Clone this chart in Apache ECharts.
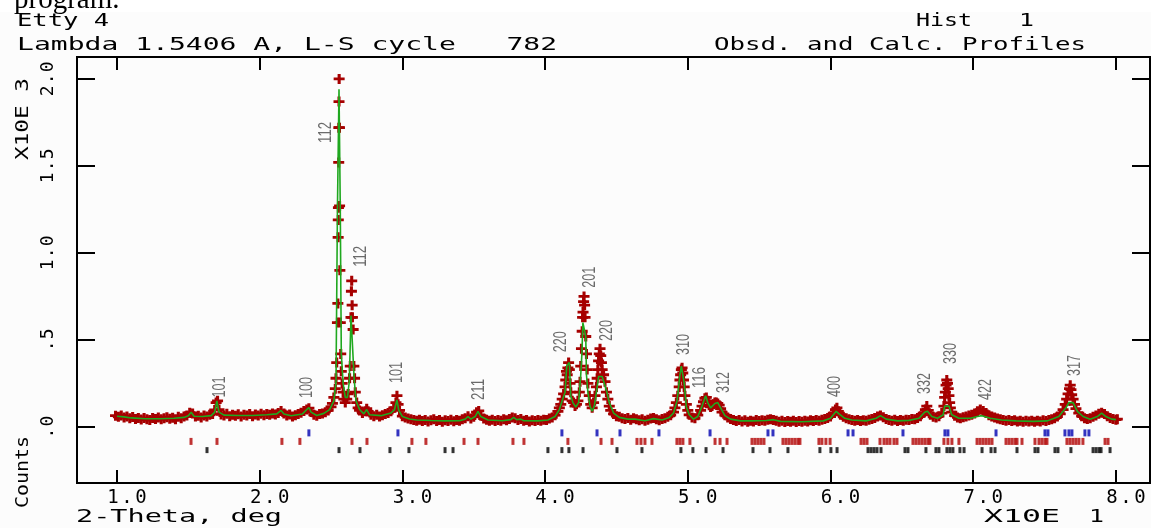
<!DOCTYPE html>
<html>
<head>
<meta charset="utf-8">
<script src="https://cdn.jsdelivr.net/npm/echarts@6.0.0/dist/echarts.min.js"></script>
<style>
  html, body { margin: 0; padding: 0; background: #fcfcfc; }
  #chart { width: 1151px; height: 528px; }
</style>
</head>
<body>
<div id="chart"></div>
<script>
// 2-theta in units of 10 deg, counts in units of 1000
const xTicks = [1, 2, 3, 4, 5, 6, 7, 8];
const xTickText = ['1.0', '2.0', '3.0', '4.0', '5.0', '6.0', '7.0', '8.0'];
const yTicks = [0, 0.5, 1.0, 1.5, 2.0];
const yTickText = ['.0', '.5', '1.0', '1.5', '2.0'];

// calculated profile
const calcPts = [
  [1.00,0.062],[1.05,0.058],[1.10,0.052],[1.20,0.047],[1.30,0.047],[1.40,0.050],[1.47,0.055],[1.50,0.065],
  [1.52,0.085],[1.54,0.062],[1.60,0.060],[1.66,0.065],[1.685,0.085],[1.70,0.150],[1.715,0.085],[1.75,0.068],
  [1.85,0.066],[1.95,0.066],[2.05,0.070],[2.12,0.075],[2.15,0.095],[2.17,0.075],[2.22,0.064],[2.30,0.075],
  [2.33,0.100],[2.345,0.112],[2.36,0.085],[2.40,0.066],[2.45,0.078],[2.49,0.100],[2.52,0.150],[2.535,0.260],
  [2.545,1.250],[2.556,1.940],[2.565,1.250],[2.572,0.420],[2.585,0.250],[2.60,0.170],[2.615,0.170],[2.628,0.260],
  [2.64,0.640],[2.652,0.640],[2.662,0.280],[2.675,0.150],[2.70,0.100],[2.73,0.075],[2.75,0.100],[2.77,0.070],
  [2.85,0.065],[2.92,0.080],[2.945,0.100],[2.962,0.155],[2.975,0.095],[3.00,0.060],[3.05,0.046],[3.10,0.040],
  [3.20,0.037],[3.30,0.035],[3.40,0.036],[3.44,0.045],[3.46,0.060],[3.48,0.045],[3.51,0.060],[3.53,0.090],
  [3.55,0.060],[3.60,0.040],[3.70,0.036],[3.76,0.042],[3.78,0.055],[3.80,0.042],[3.83,0.045],[3.85,0.036],
  [3.95,0.035],[4.02,0.040],[4.07,0.060],[4.10,0.100],[4.12,0.150],[4.14,0.200],[4.152,0.350],[4.162,0.360],
  [4.170,0.370],[4.18,0.180],[4.195,0.140],[4.215,0.115],[4.235,0.140],[4.25,0.300],[4.258,0.420],[4.265,0.600],
  [4.275,0.600],[4.285,0.520],[4.29,0.300],[4.30,0.200],[4.315,0.120],[4.33,0.090],[4.345,0.120],[4.36,0.200],
  [4.375,0.290],[4.40,0.290],[4.415,0.250],[4.43,0.210],[4.45,0.140],[4.48,0.080],[4.52,0.055],[4.58,0.045],
  [4.63,0.045],[4.70,0.036],[4.76,0.048],[4.82,0.040],[4.87,0.055],[4.90,0.080],[4.925,0.150],[4.945,0.300],
  [4.955,0.350],[4.965,0.350],[4.975,0.250],[4.99,0.115],[5.01,0.070],[5.04,0.045],[5.07,0.060],[5.10,0.120],
  [5.125,0.180],[5.14,0.140],[5.16,0.110],[5.19,0.135],[5.21,0.140],[5.23,0.110],[5.26,0.065],[5.30,0.045],
  [5.37,0.035],[5.45,0.035],[5.55,0.037],[5.60,0.042],[5.65,0.032],[5.80,0.030],[5.95,0.035],[6.00,0.050],
  [6.04,0.090],[6.06,0.075],[6.10,0.050],[6.15,0.040],[6.25,0.035],[6.32,0.050],[6.35,0.065],[6.39,0.045],
  [6.47,0.035],[6.55,0.038],[6.62,0.050],[6.66,0.085],[6.68,0.090],[6.71,0.060],[6.75,0.050],[6.79,0.070],
  [6.80,0.120],[6.83,0.120],[6.85,0.070],[6.90,0.050],[6.98,0.050],[7.03,0.060],[7.06,0.065],[7.12,0.050],
  [7.20,0.040],[7.30,0.035],[7.42,0.032],[7.52,0.035],[7.60,0.060],[7.65,0.110],[7.67,0.140],[7.70,0.140],
  [7.73,0.090],[7.77,0.060],[7.82,0.045],[7.87,0.060],[7.90,0.080],[7.93,0.060],[7.97,0.045],[8.00,0.042]
];

// observed points
const obsA = [
  [0.99,0.065],[1.01,0.058],[1.03,0.066],[1.05,0.055],[1.07,0.060],[1.09,0.050],[1.11,0.057],[1.13,0.046],
  [1.15,0.052],[1.17,0.043],[1.19,0.051],[1.21,0.045],[1.23,0.040],[1.25,0.052],[1.27,0.046],[1.29,0.055],
  [1.31,0.044],[1.33,0.050],[1.35,0.056],[1.37,0.047],[1.39,0.053],[1.41,0.045],[1.43,0.058],[1.45,0.050],
  [1.47,0.060],[1.49,0.066],[1.51,0.082],[1.53,0.078],[1.55,0.060],[1.57,0.064],[1.59,0.054],[1.61,0.066],
  [1.63,0.060],[1.65,0.070],[1.67,0.075],[1.685,0.098],[1.695,0.140],[1.705,0.150],[1.715,0.100],[1.73,0.072],
  [1.75,0.066],[1.77,0.076],[1.79,0.062],[1.81,0.070],[1.83,0.064],[1.85,0.073],[1.87,0.060],[1.89,0.070],
  [1.91,0.066],[1.93,0.075],[1.95,0.062],[1.97,0.072],[1.99,0.066],[2.01,0.076],[2.03,0.068],[2.05,0.074],
  [2.07,0.070],[2.09,0.078],[2.11,0.072],[2.13,0.080],[2.15,0.092],[2.17,0.078],[2.19,0.066],[2.21,0.072],
  [2.23,0.060],[2.25,0.068],[2.27,0.074],[2.29,0.082],[2.31,0.092],[2.33,0.100],[2.345,0.108],[2.36,0.086],
  [2.38,0.070],[2.40,0.064],[2.42,0.074],[2.44,0.078]
];
const obsB = [
  [2.46,0.085],[2.48,0.095],[2.50,0.115],[2.51,0.135],[2.52,0.170],[2.53,0.220],[2.535,0.280],[2.54,0.370],
  [2.545,0.600],[2.548,0.710],[2.55,1.090],[2.551,1.190],[2.552,1.260],[2.554,1.520],[2.555,1.720],[2.556,1.870],
  [2.557,2.000],[2.559,1.720],[2.56,1.270],[2.562,0.900],[2.565,0.600],[2.568,0.420],[2.572,0.320],[2.578,0.250],
  [2.585,0.200],[2.59,0.160],[2.60,0.140],[2.61,0.160],[2.62,0.190],[2.63,0.280],[2.635,0.350],[2.64,0.630],
  [2.643,0.780],[2.645,0.840],[2.648,0.700],[2.65,0.630],[2.655,0.560],[2.66,0.350],[2.665,0.280],[2.67,0.200],
  [2.68,0.140],[2.69,0.110],[2.70,0.095],[2.72,0.080],[2.74,0.090],[2.75,0.105],[2.76,0.090],[2.78,0.070],
  [2.80,0.062],[2.82,0.070],[2.84,0.060],[2.86,0.068],[2.88,0.074],[2.90,0.080],[2.92,0.090],[2.94,0.110],
  [2.955,0.140],[2.962,0.180],[2.97,0.130],[2.98,0.095],[3.00,0.062],[3.02,0.055],[3.04,0.048],[3.06,0.044],
  [3.08,0.040]
];
const obsC = [
  [3.10,0.036],[3.12,0.042],[3.14,0.034],[3.16,0.040],[3.18,0.032],[3.20,0.038],[3.22,0.044],[3.24,0.034],
  [3.26,0.040],[3.28,0.030],[3.30,0.038],[3.32,0.035],[3.34,0.042],[3.36,0.033],[3.38,0.040],[3.40,0.036],
  [3.42,0.044],[3.44,0.050],[3.46,0.062],[3.48,0.048],[3.50,0.058],[3.52,0.085],[3.535,0.092],[3.55,0.065],
  [3.57,0.048],[3.59,0.042],[3.61,0.036],[3.63,0.042],[3.65,0.034],[3.67,0.040],[3.69,0.036],[3.71,0.044],
  [3.73,0.038],[3.75,0.046],[3.77,0.054],[3.79,0.050],[3.81,0.040],[3.83,0.046],[3.85,0.036],[3.87,0.040],
  [3.89,0.032],[3.91,0.038],[3.93,0.034],[3.95,0.040],[3.97,0.036],[3.99,0.042],[4.01,0.040],[4.03,0.048],
  [4.05,0.055],[4.07,0.068],[4.09,0.090],[4.10,0.110],[4.11,0.130],[4.12,0.160],[4.13,0.190],[4.14,0.230],
  [4.145,0.270],[4.15,0.320],[4.155,0.300],[4.16,0.340],[4.165,0.370],[4.17,0.330],[4.175,0.250],[4.18,0.200],
  [4.19,0.150],[4.20,0.140],[4.21,0.120],[4.22,0.130],[4.23,0.150],[4.24,0.200],[4.245,0.260],[4.25,0.350],
  [4.255,0.450],[4.26,0.550],[4.263,0.630],[4.266,0.660],[4.27,0.720],[4.273,0.750],[4.277,0.700],[4.28,0.630],
  [4.285,0.520],[4.29,0.420],[4.295,0.330],[4.30,0.250],[4.31,0.180],[4.32,0.130],[4.33,0.110],[4.34,0.140],
  [4.35,0.180],[4.36,0.230],[4.365,0.280],[4.37,0.330],[4.375,0.380],[4.38,0.420],[4.385,0.450],[4.39,0.410],
  [4.395,0.370],[4.40,0.330],[4.41,0.300],[4.42,0.260],[4.43,0.200],[4.44,0.160],[4.45,0.120],[4.46,0.095],
  [4.48,0.075]
];
const obsD = [
  [4.50,0.062],[4.52,0.058],[4.54,0.050],[4.56,0.046],[4.58,0.052],[4.60,0.042],[4.62,0.050],[4.64,0.045],
  [4.66,0.038],[4.68,0.044],[4.70,0.036],[4.72,0.042],[4.74,0.048],[4.76,0.052],[4.78,0.044],[4.80,0.038],
  [4.82,0.046],[4.84,0.050],[4.86,0.058],[4.88,0.068],[4.90,0.085],[4.91,0.110],[4.92,0.140],[4.93,0.180],
  [4.94,0.230],[4.945,0.270],[4.95,0.300],[4.955,0.330],[4.96,0.340],[4.965,0.310],[4.97,0.270],[4.975,0.230],
  [4.98,0.180],[4.99,0.130],[5.00,0.095],[5.01,0.070],[5.03,0.055],[5.05,0.050],[5.07,0.068],[5.09,0.095],
  [5.10,0.120],[5.11,0.145],[5.12,0.165],[5.13,0.170],[5.14,0.150],[5.15,0.125],[5.16,0.115],[5.17,0.120],
  [5.18,0.130],[5.19,0.140],[5.20,0.140],[5.21,0.135],[5.22,0.125],[5.23,0.105],[5.24,0.085],[5.26,0.068],
  [5.28,0.055],[5.30,0.046],[5.32,0.040],[5.34,0.034],[5.36,0.040],[5.38,0.032],[5.40,0.038],[5.42,0.030],
  [5.44,0.036],[5.46,0.032],[5.48,0.040],[5.50,0.034],[5.52,0.038],[5.54,0.036],[5.56,0.042],[5.58,0.045],
  [5.60,0.040],[5.62,0.036],[5.64,0.030],[5.66,0.036],[5.68,0.028],[5.70,0.034],[5.72,0.030],[5.74,0.036],
  [5.76,0.028],[5.78,0.034],[5.80,0.030],[5.82,0.036],[5.84,0.032],[5.86,0.038],[5.88,0.034],[5.90,0.040],
  [5.92,0.036],[5.94,0.042],[5.96,0.046],[5.98,0.052]
];
const obsE = [
  [6.00,0.060],[6.02,0.080],[6.035,0.100],[6.045,0.110],[6.055,0.090],[6.07,0.070],[6.09,0.058],[6.11,0.050],
  [6.13,0.044],[6.15,0.040],[6.17,0.036],[6.19,0.040],[6.21,0.034],[6.23,0.038],[6.25,0.036],[6.27,0.042],
  [6.29,0.046],[6.31,0.052],[6.33,0.060],[6.35,0.066],[6.37,0.056],[6.39,0.046],[6.41,0.040],[6.43,0.036],
  [6.45,0.042],[6.47,0.034],[6.49,0.040],[6.51,0.036],[6.53,0.042],[6.55,0.040],[6.57,0.046],[6.59,0.044],
  [6.61,0.052],[6.63,0.062],[6.65,0.080],[6.665,0.100],[6.675,0.120],[6.685,0.095],[6.70,0.070],[6.72,0.058],
  [6.74,0.054],[6.76,0.062],[6.78,0.080],[6.795,0.120],[6.80,0.170],[6.805,0.200],[6.81,0.240],[6.815,0.270],
  [6.82,0.250],[6.825,0.220],[6.83,0.180],[6.835,0.140],[6.84,0.110],[6.85,0.085],[6.87,0.065],[6.89,0.055],
  [6.91,0.050],[6.93,0.056],[6.95,0.060],[6.97,0.066],[6.99,0.070],[7.01,0.078],[7.03,0.090],[7.05,0.100],
  [7.07,0.092],[7.09,0.080],[7.11,0.068],[7.13,0.060],[7.15,0.054],[7.17,0.048],[7.19,0.044],[7.21,0.040],
  [7.23,0.036],[7.25,0.040],[7.27,0.034],[7.29,0.038],[7.31,0.032],[7.33,0.036],[7.35,0.030],[7.37,0.036],
  [7.39,0.032],[7.41,0.036],[7.43,0.030],[7.45,0.036],[7.47,0.032],[7.49,0.038],[7.51,0.034],[7.53,0.040],
  [7.55,0.044],[7.57,0.050],[7.59,0.060],[7.61,0.075],[7.63,0.100],[7.645,0.130],[7.655,0.160],[7.665,0.190],
  [7.675,0.220],[7.68,0.240],[7.685,0.215],[7.69,0.185],[7.70,0.160],[7.71,0.130],[7.72,0.105],[7.74,0.080],
  [7.76,0.062],[7.78,0.050],[7.80,0.046],[7.82,0.050],[7.84,0.058],[7.86,0.066],[7.88,0.076],[7.90,0.082],
  [7.92,0.074],[7.94,0.062],[7.96,0.052],[7.98,0.046],[8.00,0.042],[8.01,0.045]
];

// reflection positions of the three phases
const reflBlue = [2.345,2.969,4.118,4.364,4.525,4.798,5.156,5.562,5.597,6.123,6.158,6.508,6.802,6.823,
  7.160,7.503,7.524,7.643,7.671,7.692,7.783,7.811];
const reflRed = [1.519,1.701,2.156,2.282,2.647,2.752,3.067,3.165,3.432,3.530,3.775,3.852,4.160,4.392,
  4.469,4.644,4.672,4.700,4.749,4.924,4.945,4.966,5.015,5.191,5.226,5.275,5.450,5.471,5.492,5.513,5.534,
  5.667,5.688,5.709,5.730,5.751,5.772,5.786,5.919,5.940,5.968,5.997,6.214,6.235,6.256,6.347,6.375,6.396,
  6.417,6.445,6.466,6.578,6.599,6.620,6.641,6.662,6.683,6.697,6.795,6.823,6.851,6.900,7.027,7.048,7.069,
  7.090,7.111,7.132,7.230,7.251,7.272,7.293,7.307,7.342,7.433,7.461,7.482,7.503,7.517,7.657,7.678,7.699,
  7.720,7.741,7.769,7.924,7.945];
const reflBlack = [1.631,2.556,2.703,2.913,3.046,3.299,3.355,4.020,4.118,4.167,4.266,4.504,4.679,4.952,
  5.036,5.128,5.247,5.457,5.576,5.702,5.926,6.003,6.046,6.263,6.284,6.305,6.326,6.354,6.522,6.543,6.669,
  6.739,6.760,6.816,6.837,6.858,6.907,6.936,7.062,7.125,7.153,7.307,7.433,7.454,7.573,7.594,7.685,7.840,
  7.861,7.882,7.896,7.959];

// hkl labels: peak position, height where the label starts
const hklX = [1.72,2.33,2.465,2.71,2.962,3.537,4.11,4.315,4.434,4.973,5.085,5.254,6.03,6.66,6.844,7.09,7.713];
const hklY = [0.17,0.167,1.632,0.92,0.253,0.155,0.43,0.80,0.494,0.414,0.224,0.195,0.172,0.19,0.362,0.155,0.293];
const hklText = ['101','100','112','112','101','211','220','201','220','310','116','312','400','332','330','422','317'];

const MONO = 'DejaVu Sans Mono';
const ctx = document.createElement('canvas').getContext('2d');

// plotter-style lettering: stretch a string to the length it has in the plot
function fitText(text, x, y, w, size, rot, family, color) {
  family = family || MONO;
  ctx.font = size + 'px "' + family + '"';
  const natural = ctx.measureText(text).width;
  return {
    type: 'text', x: x, y: y, rotation: rot || 0, scaleX: w / natural, z: 10,
    style: {
      text: text, fontFamily: family, fontSize: size, fill: color || '#000',
      align: 'left', textAlign: 'left', verticalAlign: 'middle', textVerticalAlign: 'middle'
    }
  };
}

function spaced(s, lead) {
  let out = lead ? '{s|}' : '';
  for (const c of s) out += '{c|' + c + '}';
  return out;
}

// heavy plus sign, like the pen-plotter marker
const plusPath = 'path://M0,3.6H10V6.4H0Z M3.6,0H6.4V10H3.6Z';
const obsPts = obsA.concat(obsB, obsC, obsD, obsE);

const frameText = [
  { type: 'rect', shape: { x: 0, y: 0, width: 1151, height: 12 }, style: { fill: '#ffffff' } },
  { type: 'text', x: 14, y: 0, style: { text: 'program.', fontFamily: 'Liberation Serif', fontSize: 29, fill: '#000',
    align: 'left', textAlign: 'left', verticalAlign: 'middle', textVerticalAlign: 'middle' } },
  fitText('Etty 4', 17, 21, 92, 18),
  fitText('Lambda 1.5406 A, L-S cycle   782', 17, 45, 540, 18),
  fitText('Hist', 916, 21, 56, 18),
  fitText('1', 1019, 21, 15, 18),
  fitText('Obsd. and Calc. Profiles', 714, 45, 372, 18),
  fitText('2-Theta, deg', 76, 517, 206, 18),
  fitText('X10E', 984, 517, 76, 18),
  fitText('1', 1089, 517, 15, 18),
  fitText('X10E 3', 23, 160, 82, 18, Math.PI / 2),
  fitText('Counts', 23, 508, 72, 18, Math.PI / 2)
];

function tickAxis(pos, min, max, len, vals) {
  return {
    type: 'value', min: min, max: max, position: pos,
    axisLine: { show: false, onZero: false },
    splitLine: { show: false },
    axisTick: { inside: true, length: len, customValues: vals, lineStyle: { color: '#000', width: 2 } },
    axisLabel: { show: false }
  };
}

const xBottom = tickAxis('bottom', 0.72, 8.239, 13, xTicks);
xBottom.axisLabel = {
  customValues: xTicks, margin: 6, color: '#000',
  formatter: function (v) { return spaced(xTickText[xTicks.indexOf(v)], true); },
  rich: {
    s: { width: 20 },
    c: { width: 14, align: 'center', fontFamily: MONO, fontSize: 19, color: '#000' }
  }
};
const yLeft = tickAxis('left', -0.322, 2.126, 18, yTicks);
yLeft.axisLabel = {
  customValues: yTicks, rotate: 90, margin: 20, color: '#000',
  formatter: function (v) { return spaced(yTickText[yTicks.indexOf(v)], false); },
  rich: {
    c: { width: 12, align: 'center', fontFamily: MONO, fontSize: 18, color: '#000' }
  }
};

const chart = echarts.init(document.getElementById('chart'));
chart.setOption({
  backgroundColor: '#fcfcfc',
  animation: false,
  grid: {
    left: 77, top: 57, width: 1073, height: 426,
    show: true, borderColor: '#000', borderWidth: 2,
    outerBoundsMode: 'none'
  },
  xAxis: [xBottom, tickAxis('top', 0.72, 8.239, 13, xTicks)],
  yAxis: [yLeft, tickAxis('right', -0.322, 2.126, 18, yTicks)],
  graphic: frameText,
  series: [{
    name: 'Obsd',
    type: 'scatter',
    data: obsPts,
    symbol: plusPath,
    symbolSize: [11, 10],
    itemStyle: { color: '#a60000', opacity: 1 },
    z: 2
  }, {
    name: 'Calc',
    type: 'line',
    data: calcPts,
    showSymbol: false,
    lineStyle: { color: '#1fa81f', width: 1.6 },
    z: 3
  }, {
    name: 'Phase 1',
    type: 'scatter',
    data: reflBlue.map(function (v) { return [v, -0.034]; }),
    symbol: 'rect', symbolSize: [3, 7],
    itemStyle: { color: '#0000b0' }
  }, {
    name: 'Phase 2',
    type: 'scatter',
    data: reflRed.map(function (v) { return [v, -0.083]; }),
    symbol: 'rect', symbolSize: [3, 7],
    itemStyle: { color: '#b00000' }
  }, {
    name: 'Phase 3',
    type: 'scatter',
    data: reflBlack.map(function (v) { return [v, -0.133]; }),
    symbol: 'rect', symbolSize: [3, 6],
    itemStyle: { color: '#000000' }
  }]
});

// hkl annotations, placed through the chart's own scales
const hklLabels = hklText.map(function (t, i) {
  const p = chart.convertToPixel({ xAxisIndex: 0, yAxisIndex: 0 }, [hklX[i], hklY[i]]);
  return fitText(t, p[0], p[1], 21, 18, Math.PI / 2, 'Liberation Sans', '#6a6a6a');
});
chart.setOption({ graphic: frameText.concat(hklLabels) });
</script>
</body>
</html>
